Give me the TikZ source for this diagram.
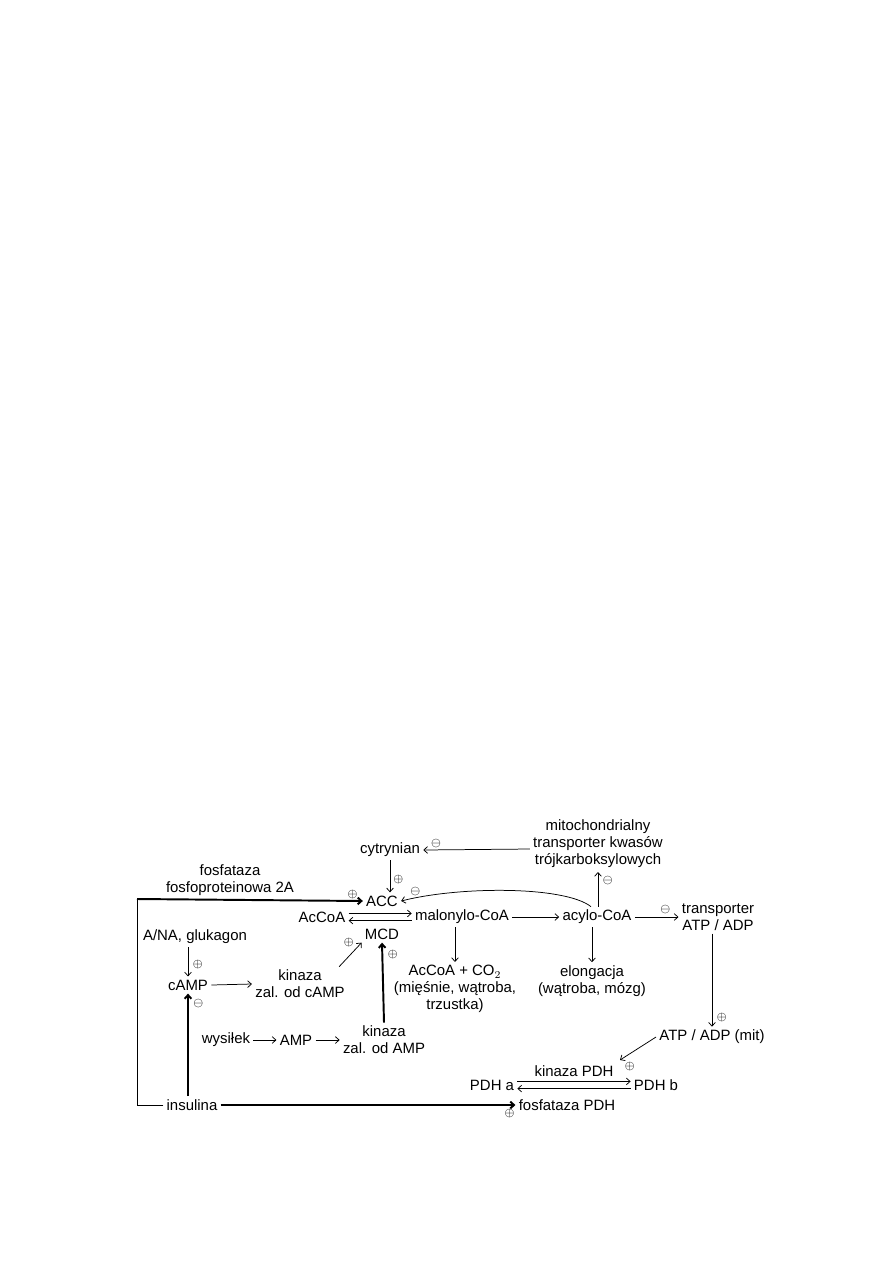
\documentclass[tikz,border=0pt]{standalone}
\usepackage{fontspec}
\setmainfont{Liberation Sans}
\usepackage{amssymb}
\usetikzlibrary{arrows.meta,positioning}
\tikzset{
  lbl/.style={inner sep=2pt,align=center,font=\fontsize{10}{11.3}\selectfont},
  sgn/.style={inner sep=0pt,font=\footnotesize},
  thk/.style={line width=1.3pt},
}

\begin{document}
\begin{tikzpicture}[x=0.023516cm,y=-0.023516cm,line width=0.5pt,>={Straight Barb[length=2.5pt,width=4.5pt]}]
		\useasboundingbox (0,0) rectangle (893,1263);
		% nodes
		\node[lbl] (mito) at (598,844) {mitochondrialny\\transporter kwasów\\trójkarboksylowych};
		\node[lbl] (cytr) at (390,850) {cytrynian};
		\node[lbl] (fosf) at (230,880) {fosfataza\\fosfoproteinowa 2A};
		\node[lbl] (acc) at (382,901) {ACC};
		\node[lbl] (accoa) at (322,917) {AcCoA};
		\node[lbl] (malo) at (462,917) {malonylo-CoA};
		\node[lbl] (acyl) at (597,917) {acylo-CoA};
		\node[lbl] (trans) at (718,917) {transporter\\ATP / ADP};
		\node[lbl] (mcd) at (382,934) {MCD};
		\node[lbl] (prod) at (455,989) {AcCoA + CO$_2$\\(mięśnie, wątroba,\\trzustka)};
		\node[lbl] (elong) at (592,981) {elongacja\\(wątroba, mózg)};
		\node[lbl] (ana) at (195,937) {A/NA, glukagon};
		\node[lbl] (camp) at (188,985) {cAMP};
		\node[lbl] (kcamp) at (300,984) {kinaza\\zal. od cAMP};
		\node[lbl] (wys) at (226,1040) {wysiłek};
		\node[lbl] (amp) at (296,1040) {AMP};
		\node[lbl] (kamp) at (384,1040) {kinaza\\zal. od AMP};
		\node[lbl] (atpm) at (712,1037) {ATP / ADP (mit)};
		\node[lbl] (pdha) at (492,1085) {PDH a};
		\node[lbl] (pdhb) at (656,1085) {PDH b};
		\node[lbl] (ins) at (192,1105) {insulina};
		\node[lbl] (fpdh) at (567,1105) {fosfataza PDH};
		\coordinate (lc) at (137,1105);
		\coordinate (pin) at (620,1060);
		% ACC branch
		\draw[->] (mito.west |- 0,849) -- (cytr.east) node[sgn,above right=1pt and 5pt]{$\ominus$};
		\draw[->] (cytr.south) -- (cytr.south |- acc.north) node[sgn,pos=0.6,right=2pt]{$\oplus$};
		\draw (ins.west) -- (lc) -- (lc |- 0,899);
		\draw[thk,->] (lc |- 0,899) -- (acc.west) node[sgn,above left=1pt and 3pt]{$\oplus$};
		\draw[->] ([xshift=-4pt]acyl.north) .. controls (565,886) and (460,886) .. (acc.east) node[sgn,above right=3pt and 6pt]{$\ominus$};
		\draw[->] ([yshift=2.4pt]accoa.east) -- ([yshift=2.4pt]malo.west);
		\draw[->] ([yshift=-2.4pt]malo.west) -- ([yshift=-2.4pt]accoa.east);
		\draw[->] (malo.east) -- (acyl.west);
		\draw[->] (acyl.east) -- (trans.west) node[sgn,pos=0.7,above=2pt]{$\ominus$};
		\draw[->] (mito.south |- acyl.north) -- (mito.south |- 0,872) node[sgn,pos=0.75,right=3pt]{$\ominus$};
		\draw[->] (prod.north |- malo.south) -- (prod.north);
		\draw[->] (elong.north |- acyl.south) -- (elong.north);
		% cAMP / AMP
		\draw[->] (camp.north |- ana.south) -- (camp.north) node[sgn,pos=0.6,right=3pt]{$\oplus$};
		\draw[->] (camp.east) -- (kcamp.west);
		\draw[->] ([xshift=-6pt]kcamp.north east) -- (mcd.south west) node[sgn,left=5pt]{$\oplus$};
		\draw[thk,->] (kamp.north) -- (mcd.south) node[sgn,pos=0.85,right=3pt]{$\oplus$};
		\draw[thk,->] (camp.south |- ins.north) -- (camp.south) node[sgn,pos=0.9,right=3pt]{$\ominus$};
		\draw[->] (wys.east) -- (amp.west);
		\draw[->] (amp.east) -- (kamp.west);
		% PDH
		\draw[->] (trans.south -| atpm.north) -- (atpm.north) node[sgn,pos=0.9,right=3pt]{$\oplus$};
		\draw[->] (atpm.west) -- (pin) node[sgn,below right=1pt and 3pt]{$\oplus$};
		\draw[->] ([yshift=2.4pt]pdha.east) -- ([yshift=2.4pt]pdhb.west) node[lbl,midway,above=1pt]{kinaza PDH};
		\draw[->] ([yshift=-2.4pt]pdhb.west) -- ([yshift=-2.4pt]pdha.east);
		\draw[thk,->] (ins.east) -- (fpdh.west) node[sgn,below left=2pt and 0pt]{$\oplus$};
\end{tikzpicture}
\end{document}
